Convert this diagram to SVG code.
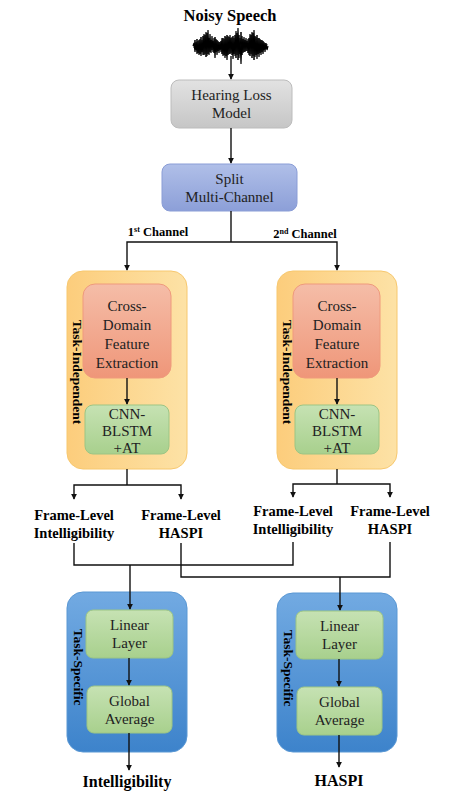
<svg xmlns="http://www.w3.org/2000/svg" width="463" height="800" viewBox="0 0 463 800">
<style>
.t{font-family:"Liberation Serif","Times New Roman",serif;font-size:15px;fill:#222;text-anchor:middle}
.b{font-family:"Liberation Serif","Times New Roman",serif;font-weight:bold;fill:#000;text-anchor:middle}
.c{fill:none;stroke:#111;stroke-width:1.4}
.a{fill:none;stroke:#111;stroke-width:1.4;marker-end:url(#ah)}
</style>
<defs>
<marker id="ah" viewBox="0 0 8 8" refX="7" refY="4" markerWidth="6" markerHeight="6" markerUnits="userSpaceOnUse" orient="auto"><path d="M0,0 L8,4 L0,8 z" fill="#111"/></marker>
<linearGradient id="gGray" x1="0" y1="0" x2="0" y2="1"><stop offset="0" stop-color="#e2e2e2"/><stop offset="1" stop-color="#c6c6c6"/></linearGradient>
<linearGradient id="gSplit" x1="0" y1="0" x2="0" y2="1"><stop offset="0" stop-color="#b0bfe8"/><stop offset="1" stop-color="#8c9fd8"/></linearGradient>
<linearGradient id="gOr" x1="0" y1="0" x2="1" y2="0"><stop offset="0" stop-color="#fccd7c"/><stop offset="1" stop-color="#fde2a6"/></linearGradient>
<linearGradient id="gSal" x1="0" y1="0" x2="0" y2="1"><stop offset="0" stop-color="#f5bda8"/><stop offset="1" stop-color="#ef9679"/></linearGradient>
<linearGradient id="gGr" x1="0" y1="0" x2="0" y2="1"><stop offset="0" stop-color="#c6e2b3"/><stop offset="1" stop-color="#a8d08d"/></linearGradient>
<linearGradient id="gBl" x1="0" y1="0" x2="0" y2="1"><stop offset="0" stop-color="#72aae2"/><stop offset="1" stop-color="#3d83cb"/></linearGradient>
</defs>
<rect width="463" height="800" fill="#fff"/>

<g id="input">
<text class="b" x="230" y="21" font-size="16.5">Noisy Speech</text>
<path d="M193,46 L194,43 L195,52 L196,42 L197,54 L198,41 L199,55 L200,39 L201,56 L202,40 L203,55 L204,34 L205,54 L206,32 L207,56 L208,30 L209,55 L210,34 L211,53 L212,36 L213,52 L214,38 L215,58 L216,39 L217,55 L218,41 L219,53 L220,42 L221,52 L222,38 L223,56 L224,39 L225,58 L226,37 L227,60 L228,36 L229,54 L230,35 L231,53 L232,37 L233,59 L234,38 L235,56 L236,31 L237,55 L238,28 L239,58 L240,38 L241,64 L242,36 L243,53 L244,37 L245,52 L246,38 L247,51 L248,39 L249,55 L250,34 L251,54 L252,32 L253,56 L254,30 L255,57 L256,37 L257,59 L258,38 L259,57 L260,39 L261,55 L262,40 L263,54 L264,42 L265,52 L266,43 L267,50 L268,46" fill="none" stroke="#000" stroke-width="1.2"/>
<path d="M194,48 L195,40 L196,50 L197,39 L198,53 L199,40 L200,54 L201,37 L202,52 L203,36 L204,55 L205,35 L206,57 L207,33 L208,54 L209,38 L210,52 L211,40 L212,50 L213,41 L214,53 L215,37 L216,52 L217,40 L218,51 L219,42 L220,50 L221,41 L222,54 L223,38 L224,55 L225,36 L226,56 L227,35 L228,55 L229,37 L230,54 L231,38 L232,55 L233,36 L234,54 L235,35 L236,58 L237,33 L238,60 L239,35 L240,54 L241,32 L242,55 L243,39 L244,52 L245,40 L246,51 L247,41 L248,53 L249,38 L250,56 L251,35 L252,58 L253,33 L254,60 L255,36 L256,55 L257,35 L258,54 L259,38 L260,53 L261,40 L262,52 L263,41 L264,50 L265,43 L266,49 L267,44" fill="none" stroke="#000" stroke-width="1"/>
</g>

<g id="hearing-loss">
<rect x="171" y="80" width="121" height="48" rx="8" fill="url(#gGray)" stroke="#bcbcbc"/>
<text class="t" x="231.5" y="100">Hearing Loss</text>
<text class="t" x="231.5" y="118">Model</text>
</g>

<g id="split">
<rect x="162" y="164" width="135" height="47" rx="8" fill="url(#gSplit)" stroke="#8a9dd6"/>
<text class="t" x="229.5" y="184">Split</text>
<text class="t" x="229.5" y="202">Multi-Channel</text>
</g>

<g id="channel-labels">
<text class="b" x="158" y="236" font-size="12.5">1<tspan font-size="8" dy="-4">st</tspan><tspan dy="4"> Channel</tspan></text>
<text class="b" x="305" y="238" font-size="12.5">2<tspan font-size="8" dy="-4">nd</tspan><tspan dy="4"> Channel</tspan></text>
</g>

<g id="task-independent-1">
<rect x="67" y="271" width="120" height="198" rx="16" fill="url(#gOr)" stroke="#f7c86f"/>
<text class="b" font-size="13.5" transform="translate(73,372) rotate(90)">Task-Independent</text>
</g>
<g id="cross-domain-1">
<rect x="83" y="284" width="88" height="94" rx="12" fill="url(#gSal)" stroke="#ef9a7c"/>
<text class="t" x="127" y="311">Cross-</text>
<text class="t" x="127" y="330">Domain</text>
<text class="t" x="127" y="349">Feature</text>
<text class="t" x="127" y="368">Extraction</text>
</g>
<g id="cnn-1">
<rect x="85" y="405" width="84" height="49" rx="8" fill="url(#gGr)" stroke="#9cc584"/>
<text class="t" x="127" y="419">CNN-</text>
<text class="t" x="127" y="436">BLSTM</text>
<text class="t" x="127" y="453">+AT</text>
</g>

<g id="task-independent-2">
<rect x="277" y="271" width="120" height="198" rx="16" fill="url(#gOr)" stroke="#f7c86f"/>
<text class="b" font-size="13.5" transform="translate(283,372) rotate(90)">Task-Independent</text>
</g>
<g id="cross-domain-2">
<rect x="293" y="284" width="87" height="94" rx="12" fill="url(#gSal)" stroke="#ef9a7c"/>
<text class="t" x="337" y="311">Cross-</text>
<text class="t" x="337" y="330">Domain</text>
<text class="t" x="337" y="349">Feature</text>
<text class="t" x="337" y="368">Extraction</text>
</g>
<g id="cnn-2">
<rect x="295" y="405" width="84" height="49" rx="8" fill="url(#gGr)" stroke="#9cc584"/>
<text class="t" x="337" y="419">CNN-</text>
<text class="t" x="337" y="436">BLSTM</text>
<text class="t" x="337" y="453">+AT</text>
</g>

<g id="frame-labels">
<text class="b" x="74" y="520" font-size="14.5">Frame-Level</text>
<text class="b" x="74" y="538" font-size="14.5">Intelligibility</text>
<text class="b" x="181" y="520" font-size="14.5">Frame-Level</text>
<text class="b" x="181" y="538" font-size="14.5">HASPI</text>
<text class="b" x="293" y="516" font-size="14.5">Frame-Level</text>
<text class="b" x="293" y="534" font-size="14.5">Intelligibility</text>
<text class="b" x="390" y="516" font-size="14.5">Frame-Level</text>
<text class="b" x="390" y="534" font-size="14.5">HASPI</text>
</g>

<g id="task-specific-1">
<rect x="67" y="592" width="120" height="160" rx="16" fill="url(#gBl)" stroke="#5a98d4"/>
<text class="b" font-size="13.5" transform="translate(74,667) rotate(90)">Task-Specific</text>
</g>
<g id="linear-1">
<rect x="86" y="610" width="87" height="48" rx="7" fill="url(#gGr)" stroke="#9cc584"/>
<text class="t" x="129.5" y="630">Linear</text>
<text class="t" x="129.5" y="648">Layer</text>
</g>
<g id="global-1">
<rect x="87" y="686" width="85" height="47" rx="7" fill="url(#gGr)" stroke="#9cc584"/>
<text class="t" x="129.5" y="706">Global</text>
<text class="t" x="129.5" y="724">Average</text>
</g>

<g id="task-specific-2">
<rect x="277" y="593" width="120" height="159" rx="16" fill="url(#gBl)" stroke="#5a98d4"/>
<text class="b" font-size="13.5" transform="translate(284,668) rotate(90)">Task-Specific</text>
</g>
<g id="linear-2">
<rect x="296" y="611" width="87" height="48" rx="7" fill="url(#gGr)" stroke="#9cc584"/>
<text class="t" x="339.5" y="631">Linear</text>
<text class="t" x="339.5" y="649">Layer</text>
</g>
<g id="global-2">
<rect x="297" y="687" width="85" height="48" rx="7" fill="url(#gGr)" stroke="#9cc584"/>
<text class="t" x="339.5" y="707">Global</text>
<text class="t" x="339.5" y="725">Average</text>
</g>

<g id="outputs">
<text class="b" x="127" y="787" font-size="16">Intelligibility</text>
<text class="b" x="339" y="786" font-size="16">HASPI</text>
</g>

<g id="connectors">
<path class="a" d="M231,56 V79"/>
<path class="a" d="M231,128 V163"/>
<path class="c" d="M231,211 V242"/>
<path class="a" d="M231,242 H127 V270"/>
<path class="a" d="M231,242 H337 V270"/>
<path class="a" d="M127,378 V404"/>
<path class="a" d="M337,378 V404"/>
<path class="c" d="M127,469 V485"/>
<path class="a" d="M127,485 H74 V499"/>
<path class="a" d="M127,485 H181 V499"/>
<path class="c" d="M337,469 V484"/>
<path class="a" d="M337,484 H293 V497"/>
<path class="a" d="M337,484 H390 V497"/>
<path class="c" d="M74,543 V565 H293 V542"/>
<path class="c" d="M181,543 V577 H390 V542"/>
<path class="a" d="M130,565 V609"/>
<path class="a" d="M340,577 V610"/>
<path class="a" d="M129,658 V685"/>
<path class="a" d="M339,659 V686"/>
<path class="a" d="M129,733 V770"/>
<path class="a" d="M339,735 V767"/>
</g>
</svg>
